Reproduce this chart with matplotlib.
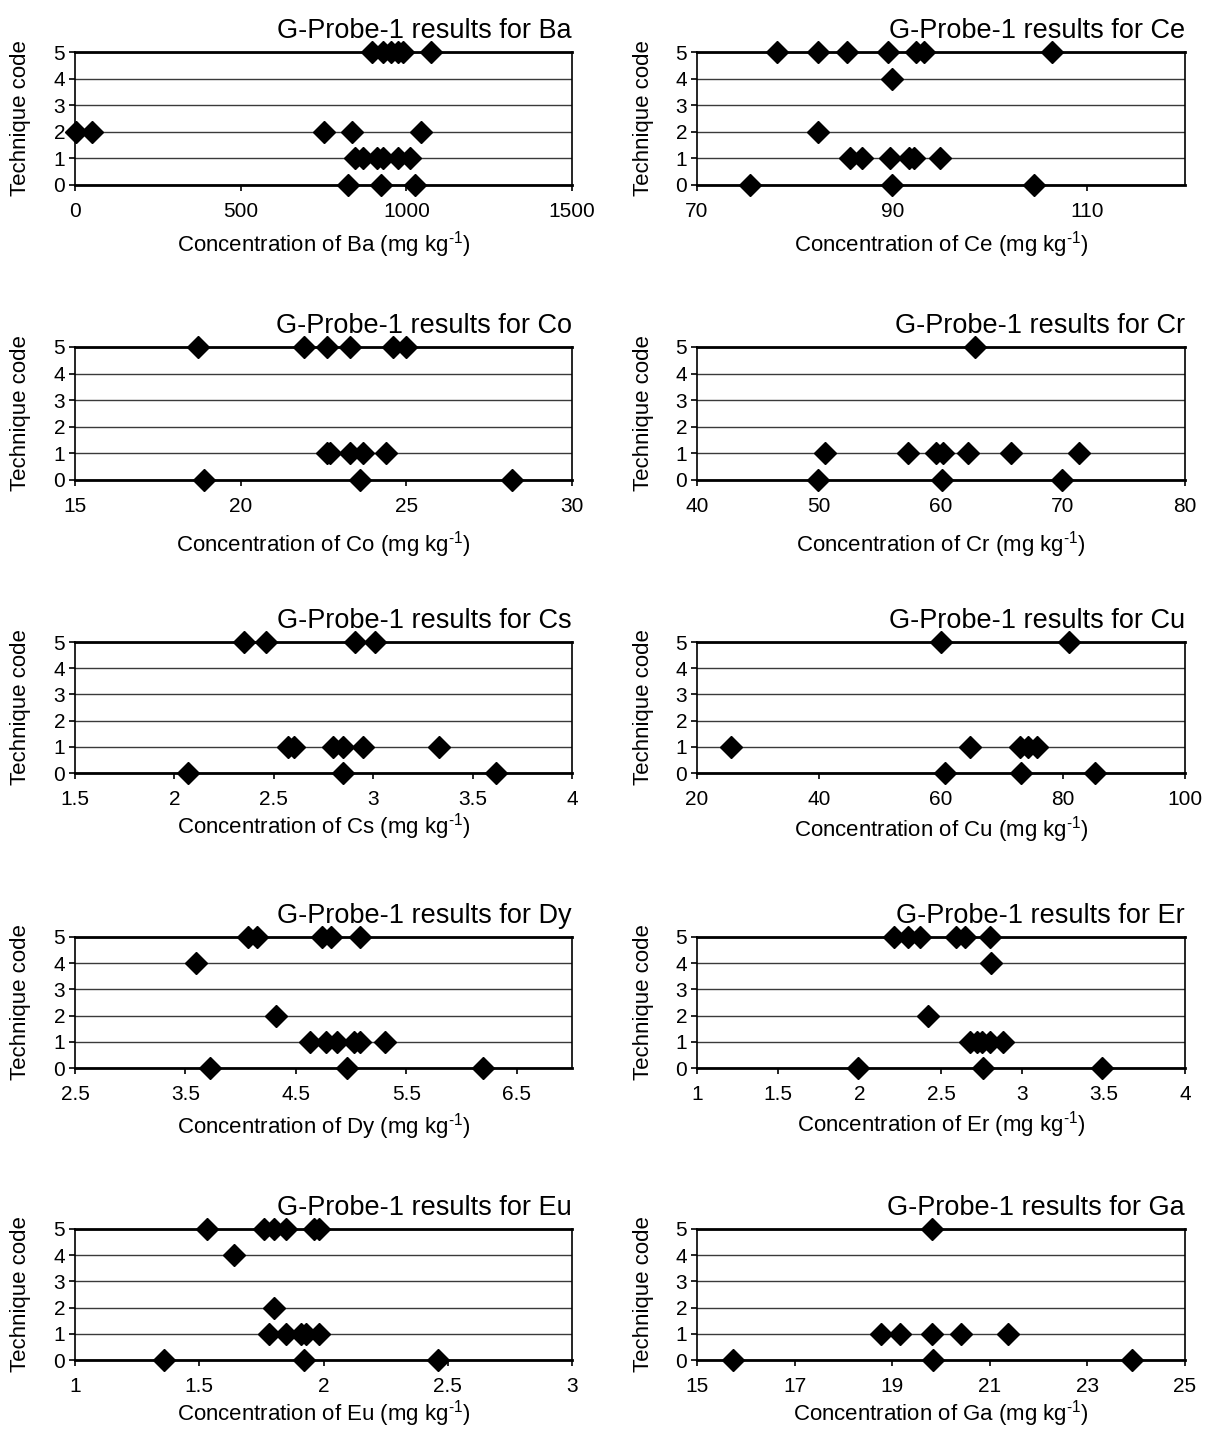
import matplotlib.pyplot as plt

plt.rcParams['font.family'] = ['Liberation Sans', 'DejaVu Sans']
plt.rcParams['mathtext.fontset'] = 'custom'
plt.rcParams['mathtext.rm'] = 'Liberation Sans'

elements = ['Ba', 'Ce', 'Co', 'Cr', 'Cs', 'Cu', 'Dy', 'Er', 'Eu', 'Ga']

# technique code -> reported concentrations (mg/kg)
ba = {5: [895, 930, 955, 975, 990, 1075],
      2: [2, 50, 750, 835, 1045],
      1: [845, 870, 910, 930, 975, 1010],
      0: [825, 925, 1025]}
ce = {5: [78.2, 82.4, 85.4, 89.6, 92.4, 93.3, 106.4],
      4: [90.0],
      2: [82.4],
      1: [85.7, 86.9, 89.8, 91.7, 92.2, 94.9],
      0: [75.4, 90.0, 104.5]}
co = {5: [18.7, 21.9, 22.6, 23.3, 24.6, 25.0],
      1: [22.6, 22.7, 23.3, 23.7, 24.4],
      0: [18.9, 23.6, 28.2]}
cr = {5: [62.8],
      1: [50.5, 57.3, 59.6, 60.2, 62.2, 65.7, 71.3],
      0: [49.9, 60.1, 69.9]}
cs = {5: [2.35, 2.46, 2.91, 3.01],
      1: [2.57, 2.60, 2.80, 2.85, 2.95, 3.33],
      0: [2.07, 2.85, 3.62]}
cu = {5: [60.0, 81.0],
      1: [25.6, 64.8, 73.0, 74.2, 75.8],
      0: [60.7, 73.1, 85.3]}
dy = {5: [4.07, 4.15, 4.74, 4.82, 5.08],
      4: [3.60],
      2: [4.32],
      1: [4.63, 4.77, 4.87, 5.03, 5.08, 5.31],
      0: [3.72, 4.96, 6.19]}
er = {5: [2.21, 2.30, 2.37, 2.59, 2.65, 2.80],
      4: [2.81],
      2: [2.42],
      1: [2.68, 2.72, 2.75, 2.80, 2.88],
      0: [1.99, 2.76, 3.49]}
eu = {5: [1.53, 1.76, 1.80, 1.85, 1.96, 1.98],
      4: [1.64],
      2: [1.80],
      1: [1.78, 1.85, 1.91, 1.93, 1.98],
      0: [1.36, 1.92, 2.46]}
ga = {5: [19.82],
      1: [18.78, 19.16, 19.82, 20.40, 21.38],
      0: [15.74, 19.84, 23.92]}

results = [ba, ce, co, cr, cs, cu, dy, er, eu, ga]

xlims = [(0, 1500), (70, 120), (15, 30), (40, 80), (1.5, 4),
         (20, 100), (2.5, 7), (1, 4), (1, 3), (15, 25)]
xticks = [[0, 500, 1000, 1500], [70, 90, 110], [15, 20, 25, 30],
          [40, 50, 60, 70, 80], [1.5, 2, 2.5, 3, 3.5, 4],
          [20, 40, 60, 80, 100], [2.5, 3.5, 4.5, 5.5, 6.5],
          [1, 1.5, 2, 2.5, 3, 3.5, 4], [1, 1.5, 2, 2.5, 3],
          [15, 17, 19, 21, 23, 25]]

W, H = 1214, 1430
fig = plt.figure(figsize=(W / 100, H / 100), dpi=100)

cols = [(75, 572), (697, 1185)]
rows = [(52, 185), (347, 480), (642, 773), (937, 1068), (1229, 1360)]
xlab_off = [60, 60, 65, 65, 54, 57, 59, 57, 54, 54]

for i, el in enumerate(elements):
    x0, x1 = cols[i % 2]
    y0, y1 = rows[i // 2]
    ax = fig.add_axes([x0 / W, 1 - y1 / H, (x1 - x0) / W, (y1 - y0) / H])
    for code, vals in results[i].items():
        ax.plot(vals, [code] * len(vals), 'D', color='black', ms=11,
                clip_on=False, zorder=5)
    ax.set_xlim(*xlims[i])
    ax.set_ylim(0, 5)
    ax.set_xticks(xticks[i])
    ax.set_xticklabels(['%g' % t for t in xticks[i]])
    ax.set_yticks(range(6))
    ax.yaxis.grid(True, color='#3a3a3a', lw=1)
    ax.set_axisbelow(True)
    for s in ['top', 'bottom']:
        ax.spines[s].set_linewidth(2)
    for s in ['left', 'right']:
        ax.spines[s].set_linewidth(1.2)
    ax.tick_params(axis='both', direction='out', length=4, width=1.2,
                   labelsize=15, color='black')
    ax.tick_params(axis='x', pad=8)
    ax.tick_params(axis='y', pad=3)
    ax.set_title('G-Probe-1 results for ' + el, loc='right', fontsize=19.5, pad=10)
    ax.set_xlabel('Concentration of %s (mg kg$^{\\text{-1}}$)' % el, fontsize=16)
    ax.xaxis.label.set_va('center')
    ax.xaxis.set_label_coords(0.5, -xlab_off[i] / (y1 - y0))
    ax.set_ylabel('Technique code', fontsize=16)
    ax.yaxis.label.set_va('center')
    ax.yaxis.set_label_coords(-54 / (x1 - x0), 0.5)

fig.savefig('out.png', dpi=100)
